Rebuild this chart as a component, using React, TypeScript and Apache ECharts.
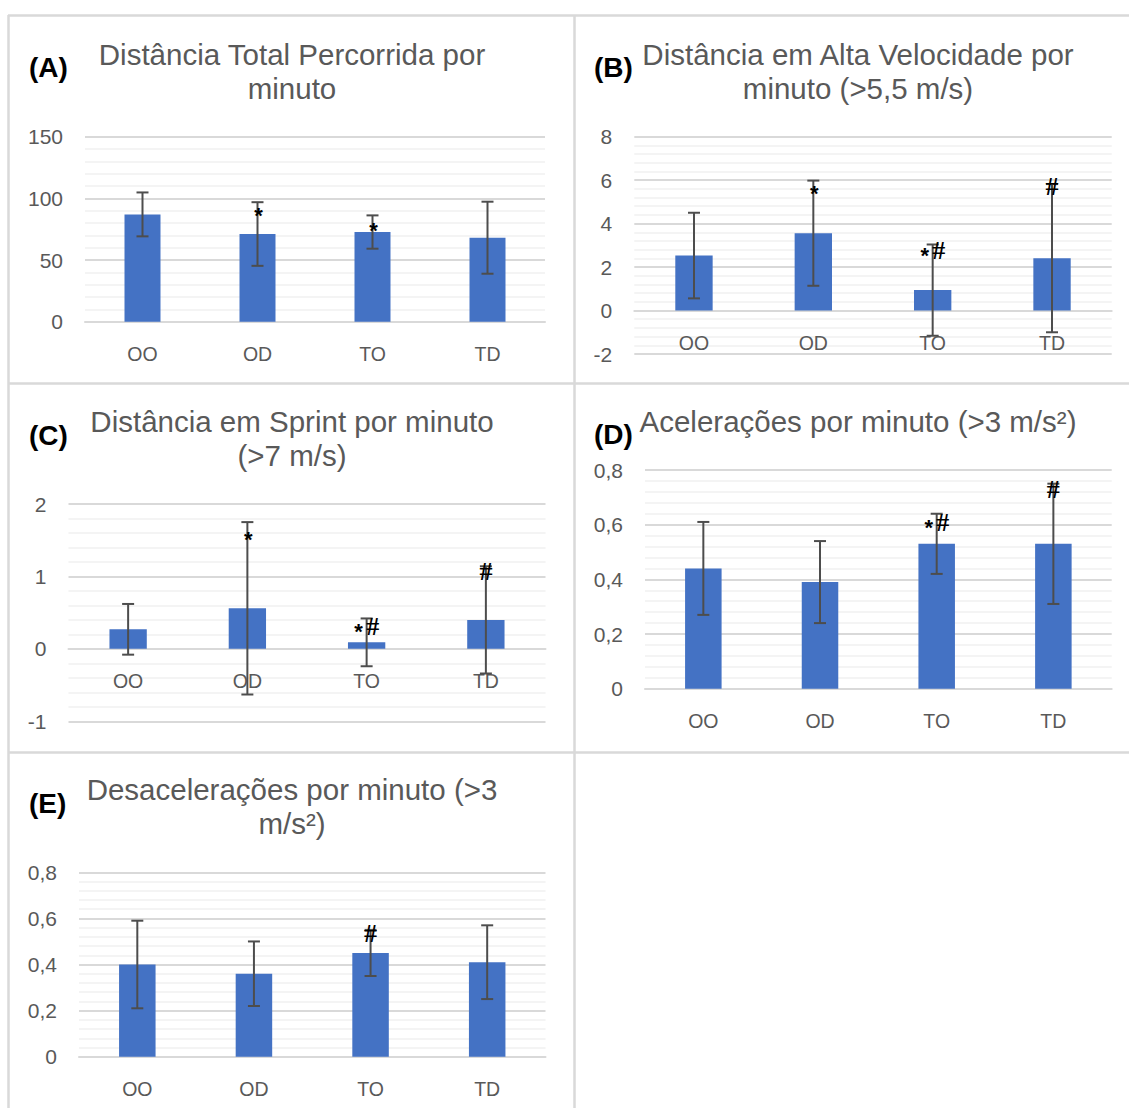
import { useEffect, useRef } from 'react';
import * as echarts from 'echarts';

// Match-situation categories
const categories = ['OO', 'OD', 'TO', 'TD'];

// (A) Distância total percorrida por minuto — mean and SD
const totalMean = [87.0, 71.1, 72.7, 68.1];
const totalSd = [17.8, 25.8, 13.5, 29.2];
const totalSig = ['', '*', '*', ''];
const totalSigY = [0, 90.3, 77.6, 0];

// (B) Distância em alta velocidade por minuto (>5,5 m/s)
const highSpeedMean = [2.53, 3.56, 0.94, 2.41];
const highSpeedSd = [1.97, 2.42, 2.1, 3.41];
const highSpeedSig = ['', '*', '*#', '#'];
const highSpeedSigY = [0, 5.63, 2.78, 5.71];

// (C) Distância em sprint por minuto (>7 m/s)
const sprintMean = [0.27, 0.56, 0.09, 0.4];
const sprintSd = [0.35, 1.19, 0.33, 0.74];
const sprintSig = ['', '*', '*#', '#'];
const sprintSigY = [0, 1.585, 0.315, 1.07];

// (D) Acelerações por minuto (>3 m/s²)
const accMean = [0.44, 0.39, 0.53, 0.53];
const accSd = [0.17, 0.15, 0.11, 0.22];
const accSig = ['', '', '*#', '#'];
const accSigY = [0, 0, 0.609, 0.73];

// (E) Desacelerações por minuto (>3 m/s²)
const decMean = [0.4, 0.36, 0.45, 0.41];
const decSd = [0.19, 0.14, 0.1, 0.16];
const decSig = ['', '', '#', ''];
const decSigY = [0, 0, 0.535, 0];

// Value-axis ranges per panel
const axisMin = [0, -2, -1, 0, 0];
const axisMax = [150, 8, 2, 0.8, 0.8];
const axisStep = [50, 2, 1, 0.2, 0.2];

const panelLetters = ['(A)', '(B)', '(C)', '(D)', '(E)'];
const panelTitles = [
  'Distância Total Percorrida por\nminuto',
  'Distância em Alta Velocidade por\nminuto (>5,5 m/s)',
  'Distância em Sprint por minuto\n(>7 m/s)',
  'Acelerações por minuto (>3 m/s²)',
  'Desacelerações por minuto (>3\nm/s²)',
];

const panelData = [
  { mean: totalMean, sd: totalSd, sig: totalSig, sigY: totalSigY },
  { mean: highSpeedMean, sd: highSpeedSd, sig: highSpeedSig, sigY: highSpeedSigY },
  { mean: sprintMean, sd: sprintSd, sig: sprintSig, sigY: sprintSigY },
  { mean: accMean, sd: accSd, sig: accSig, sigY: accSigY },
  { mean: decMean, sd: decSd, sig: decSig, sigY: decSigY },
];

// Page layout (pixels)
const layout = [
  { grid: { left: 85, top: 136.7, width: 460, height: 185 }, titleX: 292, titleY: 71, letterX: 29, letterY: 67 },
  { grid: { left: 634.3, top: 136.7, width: 477.4, height: 217.3 }, titleX: 858, titleY: 71, letterX: 594, letterY: 67.5 },
  { grid: { left: 68.5, top: 504, width: 477, height: 217.3 }, titleX: 292, titleY: 438.5, letterX: 29, letterY: 435 },
  { grid: { left: 645, top: 470, width: 466.7, height: 218.7 }, titleX: 858, titleY: 421.5, letterX: 594, letterY: 434 },
  { grid: { left: 79, top: 872.3, width: 466.5, height: 184.4 }, titleX: 292, titleY: 806.7, letterX: 29, letterY: 803.5 },
];

const BAR = '#4472C4';
const ERR = '#4d4d4d';
const TEXT = '#595959';
const GRID_MAJOR = '#d9d9d9';
const GRID_MINOR = '#f0f0f0';
const BORDER = '#d9d9d9';
const SANS = '"Liberation Sans", Arial, sans-serif';
const SERIF = '"Liberation Serif", "Times New Roman", serif';

function fmt(v: number): string {
  const r = Math.round(v * 10) / 10;
  return String(r).replace('.', ',');
}

function errorBarRenderer(mean: number[], sd: number[]) {
  return (params: any, api: any) => {
    const i = params.dataIndex;
    const top = api.coord([i, mean[i] + sd[i]]);
    const bot = api.coord([i, mean[i] - sd[i]]);
    const x = top[0];
    const cap = 6;
    const style = { stroke: ERR, lineWidth: 2 };
    return {
      type: 'group',
      children: [
        { type: 'line', shape: { x1: x, y1: top[1], x2: x, y2: bot[1] }, style },
        { type: 'line', shape: { x1: x - cap, y1: top[1], x2: x + cap, y2: top[1] }, style },
        { type: 'line', shape: { x1: x - cap, y1: bot[1], x2: x + cap, y2: bot[1] }, style },
      ],
    };
  };
}

function sigRenderer(sig: string[], sigY: number[]) {
  return (params: any, api: any) => {
    const i = params.dataIndex;
    const s = sig[i];
    if (!s) return null;
    const p = api.coord([i, sigY[i]]);
    const children: any[] = [];
    const both = s.length > 1;
    if (s.indexOf('*') >= 0) {
      children.push({
        type: 'text',
        x: p[0] + (both ? -8 : 1),
        y: p[1] + 5,
        style: {
          text: '*', fill: '#000', font: `bold 22px ${SANS}`,
          align: 'center', verticalAlign: 'middle',
        },
      });
    }
    if (s.indexOf('#') >= 0) {
      children.push({
        type: 'text',
        x: p[0] + (both ? 6 : 0),
        y: p[1],
        style: {
          text: '#', fill: '#000', font: `bold 26px ${SERIF}`,
          align: 'center', verticalAlign: 'middle',
        },
      });
    }
    return { type: 'group', children };
  };
}

function buildOption() {
  const grid: any[] = [];
  const xAxis: any[] = [];
  const yAxis: any[] = [];
  const series: any[] = [];
  const graphic: any[] = [];

  panelData.forEach((d, k) => {
    const L = layout[k];
    // category axis sits on the value-axis zero line
    const zeroShift = -((0 - axisMin[k]) / (axisMax[k] - axisMin[k])) * L.grid.height;
    grid.push({ ...L.grid, containLabel: false });
    xAxis.push({
      type: 'category',
      gridIndex: k,
      data: categories,
      position: 'bottom',
      offset: zeroShift,
      axisLine: { show: true, onZero: false, lineStyle: { color: GRID_MAJOR, width: 2 } },
      axisTick: { show: false },
      axisLabel: { color: TEXT, fontSize: 19.5, fontFamily: SANS, margin: 22 },
      splitLine: { show: false },
    });
    yAxis.push({
      type: 'value',
      gridIndex: k,
      min: axisMin[k],
      max: axisMax[k],
      interval: axisStep[k],
      axisLine: { show: false },
      axisTick: { show: false },
      axisLabel: { color: TEXT, fontSize: 21, fontFamily: SANS, margin: 22, formatter: fmt },
      splitLine: { show: true, lineStyle: { color: GRID_MAJOR, width: 2 } },
      minorTick: { show: false, splitNumber: 5 },
      minorSplitLine: { show: true, lineStyle: { color: GRID_MINOR, width: 1.5 } },
    });
    series.push({
      type: 'bar',
      xAxisIndex: k,
      yAxisIndex: k,
      data: d.mean,
      barWidth: '31.3%',
      itemStyle: { color: BAR },
      z: 2,
    });
    series.push({
      type: 'custom',
      xAxisIndex: k,
      yAxisIndex: k,
      data: d.mean.map((m, i) => [i, m]),
      renderItem: errorBarRenderer(d.mean, d.sd),
      z: 3,
    });
    series.push({
      type: 'custom',
      xAxisIndex: k,
      yAxisIndex: k,
      data: d.sig.map((_, i) => [i, d.sigY[i]]),
      renderItem: sigRenderer(d.sig, d.sigY),
      z: 4,
    });

    graphic.push({
      type: 'text',
      x: L.titleX,
      y: L.titleY,
      style: {
        text: panelTitles[k],
        fill: TEXT,
        font: `29.5px ${SANS}`,
        lineHeight: 34,
        align: 'center',
        verticalAlign: 'middle',
      },
    });
    graphic.push({
      type: 'text',
      x: L.letterX,
      y: L.letterY,
      style: {
        text: panelLetters[k],
        fill: '#000',
        font: `bold 28px ${SANS}`,
        align: 'left',
        verticalAlign: 'middle',
      },
    });
  });

  // Panel frame lines
  const frame = [
    [8, 15.5, 1129, 15.5],
    [8.5, 15, 8.5, 1108],
    [574.5, 15, 574.5, 1108],
    [8, 383.5, 1129, 383.5],
    [8, 752.5, 1129, 752.5],
  ];
  frame.forEach(([x1, y1, x2, y2]) => {
    graphic.push({
      type: 'line',
      shape: { x1, y1, x2, y2 },
      style: { stroke: BORDER, lineWidth: 2.5 },
      silent: true,
    });
  });

  return {
    animation: false,
    backgroundColor: '#ffffff',
    grid,
    xAxis,
    yAxis,
    series,
    graphic,
  };
}

export default function App() {
  const ref = useRef<HTMLDivElement>(null);
  useEffect(() => {
    if (!ref.current) return;
    const chart = echarts.init(ref.current, undefined, { renderer: 'svg' });
    chart.setOption(buildOption() as any);
    return () => chart.dispose();
  }, []);
  return (
    <div
      ref={ref}
      style={{ position: 'absolute', left: 0, top: 0, width: 1129, height: 1108, background: '#fff' }}
    />
  );
}
